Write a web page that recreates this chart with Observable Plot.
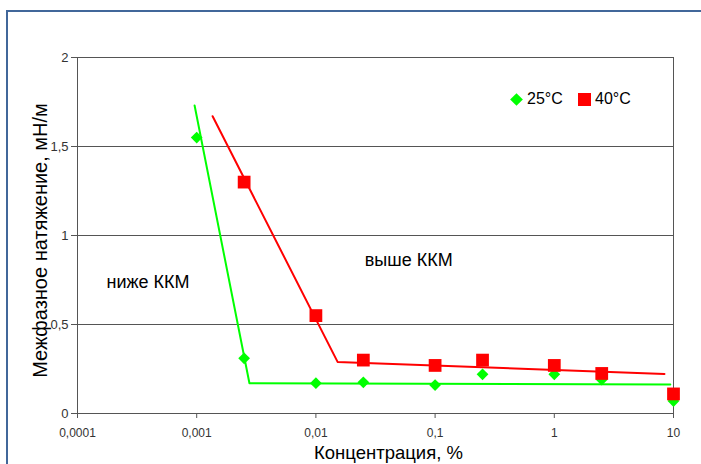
<!DOCTYPE html>
<html><head><meta charset="utf-8">
<script src="https://cdn.jsdelivr.net/npm/d3@7"></script>
<script src="https://cdn.jsdelivr.net/npm/@observablehq/plot@0.6"></script>
<style>
body{margin:0;background:#fff;font-family:"Liberation Sans",Arial,sans-serif;}
#wrap{position:relative;width:701px;height:464px;overflow:hidden;}
#border{position:absolute;left:6px;top:10px;width:720px;height:480px;border:2px solid #41679a;box-sizing:border-box;}
#chart{position:absolute;left:0;top:0;}
.leg{position:absolute;top:90px;font-size:16px;color:#000;display:flex;align-items:center;}
</style></head>
<body><div id="wrap"><div id="border"></div><div id="chart"></div>
<div class="leg" style="left:512px;"><span style="display:inline-block;width:9px;height:9px;background:#00ff00;transform:rotate(45deg);margin-right:6px;"></span>25°C</div>
<div class="leg" style="left:578px;"><span style="display:inline-block;width:13px;height:13px;background:#ff0000;margin-right:4px;"></span>40°C</div>
</div>
<script>
const xTicks = [0.0001, 0.001, 0.01, 0.1, 1, 10];
const yTicks = [0, 0.5, 1, 1.5, 2];

const conc25 = [0.001, 0.0025, 0.01, 0.025, 0.1, 0.25, 1, 2.5, 10];
const val25  = [1.55, 0.31, 0.17, 0.175, 0.16, 0.22, 0.22, 0.19, 0.07];

const conc40 = [0.0025, 0.01, 0.025, 0.1, 0.25, 1, 2.5, 10];
const val40  = [1.30, 0.55, 0.30, 0.27, 0.30, 0.27, 0.225, 0.11];

// hand-drawn trend lines
const trend25x = [0.00096, 0.00277, 9.4];
const trend25y = [1.73, 0.17, 0.163];
const trend40x = [0.00136, 0.0152, 8.4];
const trend40y = [1.67, 0.29, 0.222];

const notes = ["ниже ККМ", "выше ККМ"];
const notesX = [0.00039, 0.06];
const notesY = [0.74, 0.86];

const comma = v => String(v).replace(".", ",");

const p25 = conc25.map((c,i)=>({c, v: val25[i]}));
const p40 = conc40.map((c,i)=>({c, v: val40[i]}));
const t25 = trend25x.map((c,i)=>({c, v: trend25y[i]}));
const t40 = trend40x.map((c,i)=>({c, v: trend40y[i]}));
const nt = notes.map((t,i)=>({t, c: notesX[i], v: notesY[i]}));

const chart = Plot.plot({
  width: 701, height: 464,
  marginLeft: 77, marginRight: 28, marginTop: 57, marginBottom: 51,
  style: {fontFamily: '"Liberation Sans", Arial, sans-serif', background: "transparent"},
  x: {type: "log", domain: [0.0001, 10]},
  y: {domain: [0, 2]},
  marks: [
    Plot.gridY(yTicks, {stroke: "#555", strokeOpacity: 1, strokeWidth: 1}),
    Plot.frame({stroke: "#555", strokeWidth: 1}),
    Plot.axisX(xTicks, {tickFormat: comma, tickSize: 5, fontSize: 12, fill: "#333", stroke: "#555", tickPadding: 10, label: null}),
    Plot.axisY(yTicks, {tickFormat: comma, tickSize: 6, fontSize: 13, fill: "#333", stroke: "#555", tickPadding: 3, label: null}),
    Plot.line(t25, {x: "c", y: "v", stroke: "#00ff00", strokeWidth: 2}),
    Plot.line(t40, {x: "c", y: "v", stroke: "#ff0000", strokeWidth: 2}),
    Plot.dot(p25, {x: "c", y: "v", symbol: "diamond2", r: 5.3, fill: "#00ff00", stroke: "none"}),
    Plot.dot(p40, {x: "c", y: "v", symbol: "square", r: 7.2, fill: "#ff0000", stroke: "none"}),
    Plot.text(nt, {x: "c", y: "v", text: "t", fontSize: 18, fill: "#000"}),
    Plot.text(["Концентрация, %"], {frameAnchor: "bottom", dy: 45, dx: 13, fontSize: 18.5, fill: "#000"}),
    Plot.text(["Межфазное натяжение, мН/м"], {frameAnchor: "left", textAnchor: "middle", dx: -37, dy: 5, rotate: -90, fontSize: 20, fill: "#000"})
  ]
});
document.getElementById("chart").appendChild(chart);
</script>
</body></html>
